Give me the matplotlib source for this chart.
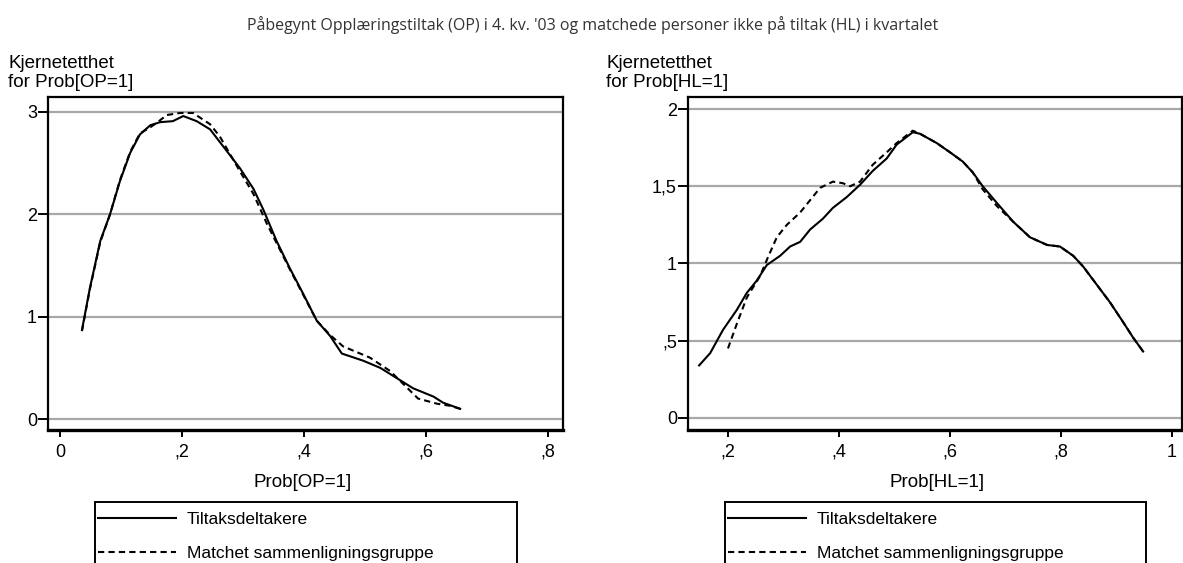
import matplotlib
matplotlib.use("Agg")
import matplotlib.pyplot as plt
from matplotlib.patches import Rectangle

# --- data ---
# left panel: kernel density of Prob[OP=1]
op_x_delt = [0.036, 0.049, 0.066, 0.082, 0.098, 0.115, 0.131, 0.148, 0.164, 0.185, 0.202,
             0.224, 0.246, 0.268, 0.295, 0.317, 0.333, 0.355, 0.377, 0.399, 0.421, 0.443,
             0.462, 0.497, 0.525, 0.552, 0.579, 0.612, 0.628, 0.656]
op_y_delt = [0.87, 1.28, 1.74, 2.00, 2.32, 2.60, 2.78, 2.87, 2.90, 2.91, 2.96,
             2.91, 2.83, 2.66, 2.45, 2.25, 2.05, 1.74, 1.47, 1.22, 0.96, 0.81,
             0.64, 0.57, 0.50, 0.40, 0.30, 0.22, 0.16, 0.10]
op_x_match = [0.036, 0.049, 0.066, 0.082, 0.098, 0.115, 0.131, 0.148, 0.160, 0.175, 0.197,
              0.218, 0.246, 0.262, 0.295, 0.317, 0.339, 0.355, 0.377, 0.399, 0.421, 0.443,
              0.464, 0.508, 0.541, 0.570, 0.587, 0.618, 0.639, 0.656]
op_y_match = [0.86, 1.27, 1.73, 2.00, 2.33, 2.61, 2.79, 2.85, 2.90, 2.97, 2.99,
              2.99, 2.88, 2.76, 2.42, 2.20, 1.91, 1.72, 1.46, 1.21, 0.96, 0.82,
              0.71, 0.60, 0.47, 0.30, 0.20, 0.15, 0.13, 0.10]

# right panel: kernel density of Prob[HL=1]
hl_x_delt = [0.148, 0.168, 0.191, 0.216, 0.234, 0.252, 0.270, 0.294, 0.312, 0.330, 0.348,
             0.371, 0.389, 0.414, 0.438, 0.461, 0.486, 0.504, 0.533, 0.546, 0.576, 0.600,
             0.623, 0.641, 0.659, 0.685, 0.714, 0.744, 0.775, 0.798, 0.822, 0.840, 0.865,
             0.888, 0.912, 0.930, 0.948]
hl_y_delt = [0.34, 0.42, 0.57, 0.70, 0.81, 0.89, 0.99, 1.05, 1.11, 1.14, 1.22,
             1.29, 1.36, 1.43, 1.51, 1.60, 1.68, 1.77, 1.85, 1.84, 1.78, 1.72,
             1.66, 1.59, 1.50, 1.39, 1.27, 1.17, 1.12, 1.11, 1.05, 0.98, 0.86,
             0.75, 0.62, 0.52, 0.43]
hl_x_match = [0.200, 0.216, 0.234, 0.258, 0.272, 0.288, 0.306, 0.330, 0.348, 0.366, 0.389,
              0.407, 0.420, 0.438, 0.461, 0.486, 0.504, 0.533, 0.546, 0.576, 0.600,
              0.623, 0.641, 0.659, 0.685, 0.714, 0.744, 0.775, 0.798, 0.822, 0.840, 0.865,
              0.888, 0.912, 0.930, 0.948]
hl_y_match = [0.45, 0.61, 0.78, 0.92, 1.04, 1.17, 1.25, 1.33, 1.41, 1.49, 1.53,
              1.52, 1.50, 1.53, 1.64, 1.72, 1.78, 1.86, 1.84, 1.78, 1.72,
              1.66, 1.59, 1.48, 1.37, 1.27, 1.17, 1.12, 1.11, 1.05, 0.98, 0.86,
              0.75, 0.62, 0.52, 0.43]

op_xticks = [0, 0.2, 0.4, 0.6, 0.8]
op_xlabels = ["0", ",2", ",4", ",6", ",8"]
op_yticks = [0, 1, 2, 3]
op_ylabels = ["0", "1", "2", "3"]
hl_xticks = [0.2, 0.4, 0.6, 0.8, 1.0]
hl_xlabels = [",2", ",4", ",6", ",8", "1"]
hl_yticks = [0, 0.5, 1, 1.5, 2]
hl_ylabels = ["0", ",5", "1", "1,5", "2"]

labels = ["Tiltaksdeltakere", "Matchet sammenligningsgruppe"]
title = "Påbegynt Opplæringstiltak (OP) i 4. kv. '03 og matchede personer ikke på tiltak (HL) i kvartalet"

plt.rcParams["font.family"] = ["Liberation Sans", "DejaVu Sans"]

W, H = 1183, 563
fig = plt.figure(figsize=(W / 100, H / 100), dpi=100)


def px(x0, y0, x1, y1):
    # pixel box -> figure fraction
    return [x0 / W, 1 - y1 / H, (x1 - x0) / W, (y1 - y0) / H]


def panel(rect, xd, yd, xm, ym, xt, xtl, yt, ytl, xlim, ylim, xlabel, ylab_x, xlab_x, leg_x):
    ax = fig.add_axes(rect)
    ax.plot(xd, yd, color="black", lw=1.5, label=labels[0])
    ax.plot(xm, ym, color="black", lw=1.5, ls=(0, (3, 2)), label=labels[1])
    for v in yt:
        ax.axhline(v, color="#a8a8a8", lw=1.6, zorder=0)
    ax.set_xlim(xlim)
    ax.set_ylim(ylim)
    ax.set_xticks(xt)
    ax.set_xticklabels(xtl)
    ax.set_yticks(yt)
    ax.set_yticklabels(ytl)
    ax.tick_params(axis="both", direction="out", width=1.4, labelsize=13)
    ax.tick_params(axis="y", length=7, pad=1)
    ax.tick_params(axis="x", length=5, pad=5)
    for s in ax.spines.values():
        s.set_linewidth(1.6)
    ax.spines["bottom"].set_linewidth(2.4)
    fig.text(ylab_x / W, 1 - 68 / H, "Kjernetetthet", fontsize=13.5, va="baseline")
    fig.text(ylab_x / W, 1 - 87 / H, "for " + xlabel, fontsize=13.5, va="baseline")
    fig.text(xlab_x / W, 1 - 487 / H, xlabel, fontsize=13.5, va="baseline", ha="center")
    # legend box runs off the bottom of the figure like in the original
    fig.patches.append(Rectangle((leg_x[0] / W, 1 - 590 / H), (leg_x[1] - leg_x[0]) / W, 88 / H,
                                 transform=fig.transFigure, fill=False, ec="black", lw=1.4))
    ax.legend(loc="upper left", bbox_to_anchor=((leg_x[0] + 3) / W, 1 - 512 / H),
              bbox_transform=fig.transFigure, fontsize=12.5, frameon=False,
              handlelength=4.5, handletextpad=0.6, labelspacing=1.1,
              borderpad=0, borderaxespad=0)
    return ax


panel(px(48, 97, 563, 430), op_x_delt, op_y_delt, op_x_match, op_y_match,
      op_xticks, op_xlabels, op_yticks, op_ylabels, (-0.0197, 0.8246), (-0.107, 3.146),
      "Prob[OP=1]", 8, 303, (95, 517))
panel(px(688, 97, 1182, 430), hl_x_delt, hl_y_delt, hl_x_match, hl_y_match,
      hl_xticks, hl_xlabels, hl_yticks, hl_ylabels, (0.128, 1.018), (-0.078, 2.078),
      "Prob[HL=1]", 606, 937, (725, 1146))

fig.text(593 / W, 1 - 30 / H, title, fontsize=11.5, family=["Open Sans", "DejaVu Sans"],
         color="#333333", ha="center", va="baseline")

fig.savefig("out.png", dpi=100)
